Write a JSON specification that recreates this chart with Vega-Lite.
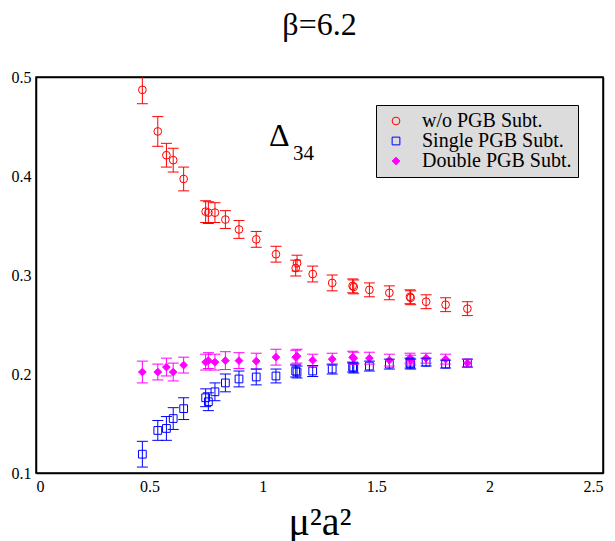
{
  "$schema": "https://vega.github.io/schema/vega-lite/v6.json",
  "width": 567,
  "height": 396,
  "autosize": "none",
  "padding": {"left": 36, "top": 77, "right": 12, "bottom": 68},
  "background": "white",
  "title": {"text": "β=6.2", "font": "Times New Roman, Liberation Serif, serif", "fontSize": 32, "fontWeight": "normal", "color": "black", "anchor": "middle", "baseline": "alphabetic", "offset": 2},
  "config": {
    "view": {"stroke": "black", "strokeWidth": 1.5},
    "font": "Times New Roman, Liberation Serif, serif",
    "axis": {"grid": false, "domainColor": "black", "domainWidth": 1.5, "tickColor": "black", "tickWidth": 1, "tickSize": 0, "labelFont": "Times New Roman, Liberation Serif, serif", "labelFontSize": 16, "labelColor": "black", "titleColor": "black"},
    "legend": {"labelFont": "Times New Roman, Liberation Serif, serif"}
  },
  "data": {"values": [
    {"s": "w/o PGB Subt.", "x": 0.469, "y": 0.487, "lo": 0.473, "hi": 0.501},
    {"s": "w/o PGB Subt.", "x": 0.537, "y": 0.445, "lo": 0.430, "hi": 0.460},
    {"s": "w/o PGB Subt.", "x": 0.575, "y": 0.421, "lo": 0.409, "hi": 0.433},
    {"s": "w/o PGB Subt.", "x": 0.605, "y": 0.416, "lo": 0.404, "hi": 0.428},
    {"s": "w/o PGB Subt.", "x": 0.651, "y": 0.397, "lo": 0.385, "hi": 0.409},
    {"s": "w/o PGB Subt.", "x": 0.748, "y": 0.364, "lo": 0.353, "hi": 0.375},
    {"s": "w/o PGB Subt.", "x": 0.760, "y": 0.363, "lo": 0.352, "hi": 0.374},
    {"s": "w/o PGB Subt.", "x": 0.789, "y": 0.363, "lo": 0.353, "hi": 0.373},
    {"s": "w/o PGB Subt.", "x": 0.835, "y": 0.356, "lo": 0.347, "hi": 0.365},
    {"s": "w/o PGB Subt.", "x": 0.895, "y": 0.346, "lo": 0.337, "hi": 0.355},
    {"s": "w/o PGB Subt.", "x": 0.971, "y": 0.336, "lo": 0.328, "hi": 0.344},
    {"s": "w/o PGB Subt.", "x": 1.058, "y": 0.321, "lo": 0.313, "hi": 0.329},
    {"s": "w/o PGB Subt.", "x": 1.145, "y": 0.307, "lo": 0.299, "hi": 0.315},
    {"s": "w/o PGB Subt.", "x": 1.151, "y": 0.312, "lo": 0.304, "hi": 0.320},
    {"s": "w/o PGB Subt.", "x": 1.220, "y": 0.301, "lo": 0.293, "hi": 0.309},
    {"s": "w/o PGB Subt.", "x": 1.306, "y": 0.292, "lo": 0.284, "hi": 0.300},
    {"s": "w/o PGB Subt.", "x": 1.396, "y": 0.289, "lo": 0.282, "hi": 0.296},
    {"s": "w/o PGB Subt.", "x": 1.401, "y": 0.288, "lo": 0.281, "hi": 0.295},
    {"s": "w/o PGB Subt.", "x": 1.470, "y": 0.285, "lo": 0.278, "hi": 0.292},
    {"s": "w/o PGB Subt.", "x": 1.558, "y": 0.282, "lo": 0.275, "hi": 0.289},
    {"s": "w/o PGB Subt.", "x": 1.649, "y": 0.278, "lo": 0.271, "hi": 0.285},
    {"s": "w/o PGB Subt.", "x": 1.652, "y": 0.277, "lo": 0.270, "hi": 0.284},
    {"s": "w/o PGB Subt.", "x": 1.720, "y": 0.273, "lo": 0.266, "hi": 0.280},
    {"s": "w/o PGB Subt.", "x": 1.806, "y": 0.270, "lo": 0.263, "hi": 0.277},
    {"s": "w/o PGB Subt.", "x": 1.902, "y": 0.266, "lo": 0.259, "hi": 0.273},
    {"s": "Single PGB Subt.", "x": 0.469, "y": 0.119, "lo": 0.106, "hi": 0.132},
    {"s": "Single PGB Subt.", "x": 0.537, "y": 0.143, "lo": 0.133, "hi": 0.153},
    {"s": "Single PGB Subt.", "x": 0.575, "y": 0.145, "lo": 0.133, "hi": 0.157},
    {"s": "Single PGB Subt.", "x": 0.605, "y": 0.155, "lo": 0.144, "hi": 0.166},
    {"s": "Single PGB Subt.", "x": 0.651, "y": 0.165, "lo": 0.154, "hi": 0.176},
    {"s": "Single PGB Subt.", "x": 0.748, "y": 0.176, "lo": 0.167, "hi": 0.185},
    {"s": "Single PGB Subt.", "x": 0.760, "y": 0.172, "lo": 0.163, "hi": 0.181},
    {"s": "Single PGB Subt.", "x": 0.789, "y": 0.182, "lo": 0.173, "hi": 0.191},
    {"s": "Single PGB Subt.", "x": 0.835, "y": 0.191, "lo": 0.182, "hi": 0.200},
    {"s": "Single PGB Subt.", "x": 0.895, "y": 0.195, "lo": 0.187, "hi": 0.203},
    {"s": "Single PGB Subt.", "x": 0.971, "y": 0.197, "lo": 0.189, "hi": 0.205},
    {"s": "Single PGB Subt.", "x": 1.058, "y": 0.198, "lo": 0.191, "hi": 0.205},
    {"s": "Single PGB Subt.", "x": 1.145, "y": 0.203, "lo": 0.197, "hi": 0.209},
    {"s": "Single PGB Subt.", "x": 1.151, "y": 0.202, "lo": 0.196, "hi": 0.208},
    {"s": "Single PGB Subt.", "x": 1.220, "y": 0.203, "lo": 0.1975, "hi": 0.2085},
    {"s": "Single PGB Subt.", "x": 1.306, "y": 0.205, "lo": 0.200, "hi": 0.210},
    {"s": "Single PGB Subt.", "x": 1.396, "y": 0.207, "lo": 0.202, "hi": 0.212},
    {"s": "Single PGB Subt.", "x": 1.401, "y": 0.206, "lo": 0.201, "hi": 0.211},
    {"s": "Single PGB Subt.", "x": 1.470, "y": 0.208, "lo": 0.203, "hi": 0.213},
    {"s": "Single PGB Subt.", "x": 1.558, "y": 0.210, "lo": 0.205, "hi": 0.215},
    {"s": "Single PGB Subt.", "x": 1.649, "y": 0.211, "lo": 0.206, "hi": 0.216},
    {"s": "Single PGB Subt.", "x": 1.652, "y": 0.210, "lo": 0.205, "hi": 0.215},
    {"s": "Single PGB Subt.", "x": 1.720, "y": 0.212, "lo": 0.208, "hi": 0.216},
    {"s": "Single PGB Subt.", "x": 1.806, "y": 0.210, "lo": 0.206, "hi": 0.214},
    {"s": "Single PGB Subt.", "x": 1.902, "y": 0.211, "lo": 0.207, "hi": 0.215},
    {"s": "Double PGB Subt.", "x": 0.469, "y": 0.202, "lo": 0.191, "hi": 0.213},
    {"s": "Double PGB Subt.", "x": 0.537, "y": 0.202, "lo": 0.194, "hi": 0.210},
    {"s": "Double PGB Subt.", "x": 0.575, "y": 0.207, "lo": 0.198, "hi": 0.216},
    {"s": "Double PGB Subt.", "x": 0.605, "y": 0.202, "lo": 0.193, "hi": 0.211},
    {"s": "Double PGB Subt.", "x": 0.651, "y": 0.209, "lo": 0.201, "hi": 0.217},
    {"s": "Double PGB Subt.", "x": 0.748, "y": 0.212, "lo": 0.204, "hi": 0.220},
    {"s": "Double PGB Subt.", "x": 0.760, "y": 0.2135, "lo": 0.2055, "hi": 0.2215},
    {"s": "Double PGB Subt.", "x": 0.789, "y": 0.212, "lo": 0.204, "hi": 0.220},
    {"s": "Double PGB Subt.", "x": 0.835, "y": 0.2135, "lo": 0.2045, "hi": 0.2225},
    {"s": "Double PGB Subt.", "x": 0.895, "y": 0.2135, "lo": 0.2055, "hi": 0.2215},
    {"s": "Double PGB Subt.", "x": 0.971, "y": 0.213, "lo": 0.205, "hi": 0.221},
    {"s": "Double PGB Subt.", "x": 1.058, "y": 0.217, "lo": 0.209, "hi": 0.225},
    {"s": "Double PGB Subt.", "x": 1.145, "y": 0.217, "lo": 0.210, "hi": 0.224},
    {"s": "Double PGB Subt.", "x": 1.151, "y": 0.218, "lo": 0.211, "hi": 0.225},
    {"s": "Double PGB Subt.", "x": 1.220, "y": 0.214, "lo": 0.208, "hi": 0.220},
    {"s": "Double PGB Subt.", "x": 1.306, "y": 0.215, "lo": 0.209, "hi": 0.221},
    {"s": "Double PGB Subt.", "x": 1.396, "y": 0.217, "lo": 0.211, "hi": 0.223},
    {"s": "Double PGB Subt.", "x": 1.401, "y": 0.216, "lo": 0.210, "hi": 0.222},
    {"s": "Double PGB Subt.", "x": 1.470, "y": 0.216, "lo": 0.210, "hi": 0.222},
    {"s": "Double PGB Subt.", "x": 1.558, "y": 0.214, "lo": 0.208, "hi": 0.220},
    {"s": "Double PGB Subt.", "x": 1.649, "y": 0.216, "lo": 0.211, "hi": 0.221},
    {"s": "Double PGB Subt.", "x": 1.652, "y": 0.214, "lo": 0.209, "hi": 0.219},
    {"s": "Double PGB Subt.", "x": 1.720, "y": 0.216, "lo": 0.211, "hi": 0.221},
    {"s": "Double PGB Subt.", "x": 1.806, "y": 0.215, "lo": 0.210, "hi": 0.220},
    {"s": "Double PGB Subt.", "x": 1.902, "y": 0.211, "lo": 0.207, "hi": 0.215}
  ]},
  "resolve": {"axis": {"x": "independent", "y": "independent"}},
  "layer": [
    {
      "mark": {"type": "point", "strokeWidth": 1, "size": 60, "opacity": 1},
      "encoding": {
        "x": {"field": "x", "type": "quantitative", "scale": {"domain": [0, 2.5], "nice": false, "zero": false},
          "axis": {"orient": "bottom", "title": "μ²a²", "titleFont": "Times New Roman, Liberation Serif, serif", "titleFontSize": 40, "titleFontWeight": "normal", "titleBaseline": "alphabetic", "titleY": 61,
            "values": [0, 0.25, 0.5, 0.75, 1, 1.25, 1.5, 1.75, 2, 2.25, 2.5], "format": "~g", "labelPadding": 5,
            "labelExpr": "round(datum.value*4) % 2 == 0 ? datum.label : ''",
            "encode": {"ticks": {"update": {"y2": [{"test": "round(datum.value*4) % 2 == 0", "value": -11}, {"value": -6}]}}}}},
        "y": {"field": "y", "type": "quantitative", "scale": {"domain": [0.1, 0.5], "nice": false, "zero": false},
          "axis": {"orient": "left", "title": null, "values": [0.1, 0.15, 0.2, 0.25, 0.3, 0.35, 0.4, 0.45, 0.5], "format": "~g", "labelPadding": 5,
            "labelExpr": "round(datum.value*20) % 2 == 0 ? datum.label : ''",
            "encode": {"ticks": {"update": {"x2": [{"test": "round(datum.value*20) % 2 == 0", "value": 11}, {"value": 6}]}}}}},
        "stroke": {"field": "s", "type": "nominal", "scale": {"domain": ["w/o PGB Subt.", "Single PGB Subt.", "Double PGB Subt."], "range": ["#ff0000", "#0000ff", "#ff00ff"]},
          "legend": {"orient": "none", "legendX": 340, "legendY": 28, "title": null, "fillColor": "#dcdcdc", "strokeColor": "black", "padding": 6, "labelFontSize": 20, "labelColor": "black", "labelOffset": 16, "symbolSize": 60, "symbolStrokeWidth": 1, "rowPadding": 0, "symbolOffset": 4,
            "encode": {"symbols": {"fill": {"condition": {"test": "datum.value === 'Double PGB Subt.'", "value": "#ff00ff"}, "value": "transparent"}}}}},
        "shape": {"field": "s", "type": "nominal", "scale": {"domain": ["w/o PGB Subt.", "Single PGB Subt.", "Double PGB Subt."], "range": ["circle", "square", "diamond"]},
          "legend": {"orient": "none", "legendX": 340, "legendY": 28, "title": null, "fillColor": "#dcdcdc", "strokeColor": "black", "padding": 6, "labelFontSize": 20, "labelColor": "black", "labelOffset": 16, "symbolSize": 60, "symbolStrokeWidth": 1, "rowPadding": 0, "symbolOffset": 4,
            "encode": {"symbols": {"fill": {"condition": {"test": "datum.value === 'Double PGB Subt.'", "value": "#ff00ff"}, "value": "transparent"}}}}},
        "fill": {"field": "s", "type": "nominal", "scale": {"domain": ["w/o PGB Subt.", "Single PGB Subt.", "Double PGB Subt."], "range": ["transparent", "transparent", "#ff00ff"]},
          "legend": {"orient": "none", "legendX": 340, "legendY": 28, "title": null, "fillColor": "#dcdcdc", "strokeColor": "black", "padding": 6, "labelFontSize": 20, "labelColor": "black", "labelOffset": 16, "symbolSize": 60, "symbolStrokeWidth": 1, "rowPadding": 0, "symbolOffset": 4,
            "encode": {"symbols": {"fill": {"condition": {"test": "datum.value === 'Double PGB Subt.'", "value": "#ff00ff"}, "value": "transparent"}}}}}
      }
    },
    {
      "mark": {"type": "rule", "strokeWidth": 1, "clip": true},
      "encoding": {
        "x": {"field": "x", "type": "quantitative",
          "axis": {"orient": "top", "title": null, "labels": false, "values": [0, 0.25, 0.5, 0.75, 1, 1.25, 1.5, 1.75, 2, 2.25, 2.5],
            "encode": {"ticks": {"update": {"y2": [{"test": "round(datum.value*4) % 2 == 0", "value": 11}, {"value": 6}]}}}}},
        "y": {"field": "lo", "type": "quantitative",
          "axis": {"orient": "right", "title": null, "labels": false, "values": [0.1, 0.15, 0.2, 0.25, 0.3, 0.35, 0.4, 0.45, 0.5],
            "encode": {"ticks": {"update": {"x2": [{"test": "round(datum.value*20) % 2 == 0", "value": -11}, {"value": -6}]}}}}},
        "y2": {"field": "hi"},
        "stroke": {"field": "s", "type": "nominal"}
      }
    },
    {
      "mark": {"type": "rule", "strokeWidth": 1, "clip": true, "xOffset": -5.5, "x2Offset": 5.5},
      "encoding": {
        "x": {"field": "x", "type": "quantitative", "axis": null},
        "x2": {"field": "x"},
        "y": {"field": "lo", "type": "quantitative", "axis": null},
        "stroke": {"field": "s", "type": "nominal"}
      }
    },
    {
      "mark": {"type": "rule", "strokeWidth": 1, "clip": true, "xOffset": -5.5, "x2Offset": 5.5},
      "encoding": {
        "x": {"field": "x", "type": "quantitative", "axis": null},
        "x2": {"field": "x"},
        "y": {"field": "hi", "type": "quantitative", "axis": null},
        "stroke": {"field": "s", "type": "nominal"}
      }
    },
    {
      "data": {"values": [{}]},
      "mark": {"type": "text", "text": "Δ", "font": "Times New Roman, Liberation Serif, serif", "fontSize": 32, "align": "left", "baseline": "alphabetic", "color": "black"},
      "encoding": {
        "x": {"datum": 1.027, "type": "quantitative", "axis": null},
        "y": {"datum": 0.4306, "type": "quantitative", "axis": null}
      }
    },
    {
      "data": {"values": [{}]},
      "mark": {"type": "text", "text": "34", "font": "Times New Roman, Liberation Serif, serif", "fontSize": 21, "align": "left", "baseline": "alphabetic", "color": "black"},
      "encoding": {
        "x": {"datum": 1.133, "type": "quantitative", "axis": null},
        "y": {"datum": 0.4165, "type": "quantitative", "axis": null}
      }
    }
  ]
}
